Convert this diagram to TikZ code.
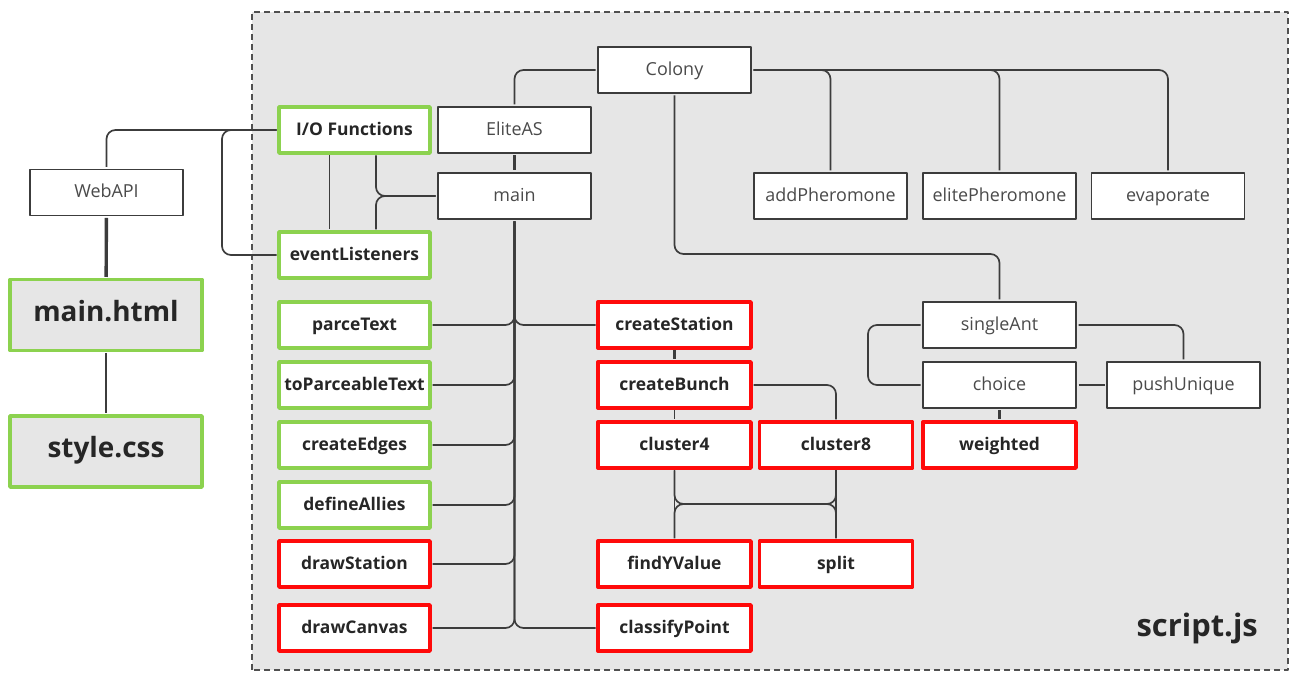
\documentclass[tikz,border=0pt]{standalone}
\usepackage{fontspec}
\setmainfont{Open Sans}
\definecolor{panelgray}{HTML}{E6E6E6}
\definecolor{linegray}{HTML}{3C3C3C}
\definecolor{textgray}{HTML}{4A4A4A}
\definecolor{okgreen}{HTML}{8CD24F}
\definecolor{todored}{HTML}{FF0A0A}
\begin{document}
\begin{tikzpicture}[line join=round,
  fn/.style={draw=linegray,line width=1.8bp,fill=white,minimum width=153bp,minimum height=46bp,inner sep=0pt,outer sep=2.5bp,text height=2ex,text depth=0pt,text=textgray,font=\fontsize{18}{20}\selectfont},
  done/.style={fn,draw=okgreen,line width=3.4bp,minimum width=151bp,text=black!85,font=\fontsize{17.5}{20}\selectfont\bfseries},
  todo/.style={done,draw=todored,minimum width=153bp},
  filebox/.style={done,fill=panelgray,minimum width=192bp,minimum height=71bp,text height=2.4ex,font=\fontsize{28}{32}\selectfont\bfseries},
  link/.style={draw=linegray,line width=1.7bp,rounded corners=9bp},
  heavy/.style={link,line width=3.4bp},
]
%%
\useasboundingbox (0bp,0bp) rectangle (1296bp,673bp);
\draw [fill=panelgray,draw=linegray!90,line width=1.5bp,dash pattern=on 6bp off 4bp] (252bp,3bp) rectangle (1288bp,661bp);
%
\node (webapi) at (106.5bp,480.5bp) [fn] {WebAPI};
  \node (mainhtml) at (106bp,358bp) [filebox] {main.html};
  \node (stylecss) at (106bp,221.5bp) [filebox] {style.css};
%
\node (iofun) at (354.5bp,543bp) [done] {I/O Functions};
  \node (eventlis) at (354.5bp,418bp) [done] {eventListeners};
  \node (parcetext) at (354.5bp,348bp) [done] {parceText};
  \node (toparce) at (354.5bp,288bp) [done] {toParceableText};
  \node (createedges) at (354.5bp,228bp) [done] {createEdges};
  \node (defineallies) at (354.5bp,168bp) [done] {defineAllies};
  \node (drawstation) at (354.5bp,109bp) [todo,minimum width=151bp] {drawStation};
  \node (drawcanvas) at (354.5bp,45bp) [todo,minimum width=151bp] {drawCanvas};
%
\node (eliteas) at (514.5bp,543bp) [fn] {EliteAS};
  \node (mainjs) at (514.5bp,477bp) [fn] {main};
  \node (colony) at (674.5bp,603bp) [fn] {Colony};
  \node (addpher) at (830.5bp,477bp) [fn] {addPheromone};
  \node (elitepher) at (999.5bp,477bp) [fn] {elitePheromone};
  \node (evaporate) at (1168bp,477bp) [fn] {evaporate};
  \node (singleant) at (999.5bp,348bp) [fn] {singleAnt};
  \node (choice) at (999.5bp,288bp) [fn] {choice};
  \node (pushunique) at (1183.5bp,288bp) [fn] {pushUnique};
  \node (weighted) at (999.5bp,228bp) [todo] {weighted};
%
\node (createstation) at (674.5bp,348bp) [todo] {createStation};
  \node (createbunch) at (674.5bp,288bp) [todo] {createBunch};
  \node (cluster4) at (674.5bp,228bp) [todo] {cluster4};
  \node (cluster8) at (836bp,228bp) [todo] {cluster8};
  \node (findy) at (674.5bp,109bp) [todo] {findYValue};
  \node (split) at (836bp,109bp) [todo] {split};
  \node (classify) at (674.5bp,45bp) [todo] {classifyPoint};
  \node (scriptjs) at (1258bp,45bp) [anchor=east,inner sep=0pt,text=black!85,font=\fontsize{31}{34}\selectfont\bfseries] {script.js};
%
\coordinate (ioturn) at (222bp,543bp);
  \coordinate (antturn) at (674.5bp,419bp);
  \coordinate (antleft) at (868bp,348bp);
  \coordinate (crossl) at (674.5bp,169bp);
  \coordinate (crossr) at (836bp,169bp);
%
\draw [heavy] (webapi) -- (mainhtml);
  \draw [link] (mainhtml) -- (stylecss);
  \draw [link] (iofun.west) -| (webapi.north);
  \draw [link] (iofun.west) -- (ioturn) |- (eventlis.west);
  \draw [link] ([xshift=-25bp]iofun.south) -- ([xshift=-25bp]eventlis.north);
  \draw [link] ([xshift=21.5bp]iofun.south) |- (mainjs.west);
  \draw [link] ([xshift=21.5bp]eventlis.north) |- (mainjs.west);
%
\draw [heavy] (eliteas) -- (mainjs);
  \draw [link] (colony.west) -| (eliteas.north);
  \draw [link] (colony.east) -| (addpher.north);
  \draw [link] (colony.east) -| (elitepher.north);
  \draw [link] (colony.east) -| (evaporate.north);
  \draw [link] (colony.south) -- (antturn) -| (singleant.north);
  \draw [link] (singleant.west) -- (antleft) |- (choice.west);
  \draw [link] (singleant.east) -| (pushunique.north);
  \draw [link] (choice) -- (pushunique);
  \draw [heavy] (choice) -- (weighted);
%
\draw [link] (mainjs.south) |- (parcetext.east);
  \draw [link] (mainjs.south) |- (toparce.east);
  \draw [link] (mainjs.south) |- (createedges.east);
  \draw [link] (mainjs.south) |- (defineallies.east);
  \draw [link] (mainjs.south) |- (drawstation.east);
  \draw [link] (mainjs.south) |- (drawcanvas.east);
  \draw [link] (mainjs.south) |- (createstation.west);
  \draw [link] (mainjs.south) |- (classify.west);
%
\draw [heavy] (createstation) -- (createbunch);
  \draw [link] (createbunch) -- (cluster4);
  \draw [link] (createbunch.east) -| (cluster8.north);
  \draw [link] (cluster4) -- (findy);
  \draw [link] (cluster8) -- (split);
  \draw [link] (cluster4.south) -- (crossl) -- (crossr) -- (split.north);
  \draw [link] (cluster8.south) -- (crossr) -- (crossl) -- (findy.north);
%
\end{tikzpicture}
\end{document}
